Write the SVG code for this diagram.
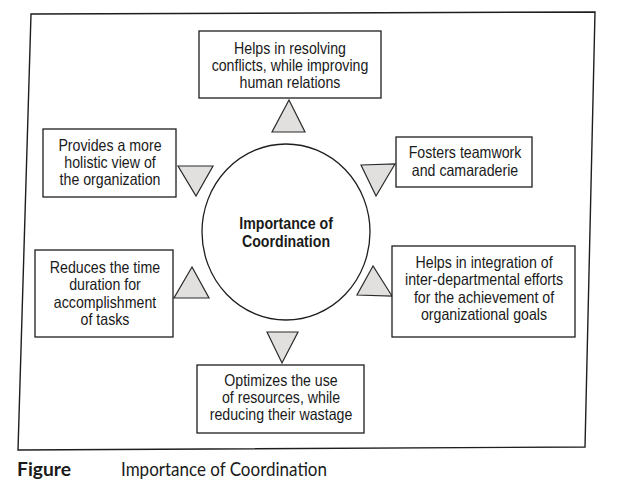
<svg xmlns="http://www.w3.org/2000/svg" width="617" height="485" viewBox="0 0 617 485">
<style>
.box{fill:#fff;stroke:#1e1e1e;stroke-width:1.3}
.tri{fill:#e2e0de;stroke:#2a2a2a;stroke-width:1.2;stroke-linejoin:miter}
.t{font-family:"Liberation Sans",Arial,sans-serif;font-size:16.3px;fill:#1a1a1a;text-anchor:middle;transform-box:fill-box;transform-origin:center;transform:scaleX(0.87)}
.b{font-weight:bold}
.cap{font-family:Lato,"Open Sans",sans-serif;font-size:19px;fill:#1a1a1a}
</style>
<rect width="617" height="485" fill="#fff"/>
<polygon points="31,14 595,12 585,447 18,450" fill="none" stroke="#1e1e1e" stroke-width="1.4"/>
<g id="connectors">
<polygon class="tri" points="289,100 272,132 305,132"/>
<polygon class="tri" points="178,166 213,166 196,196"/>
<polygon class="tri" points="361,165 395,164 376,196"/>
<polygon class="tri" points="192,267 174,298 209,298"/>
<polygon class="tri" points="373,266 357,295 392,296"/>
<polygon class="tri" points="267,332 298,332 282,363"/>
</g>
<g id="center">
<ellipse cx="286" cy="232" rx="84" ry="88" fill="#fff" stroke="#1e1e1e" stroke-width="1.3"/>
<text class="t b" x="286" y="229">Importance of</text>
<text class="t b" x="286" y="247">Coordination</text>
</g>
<g id="node-top">
<rect class="box" x="199" y="31" width="182" height="67"/>
<text class="t" x="290" y="54">Helps in resolving</text>
<text class="t" x="290" y="71">conflicts, while improving</text>
<text class="t" x="290" y="88">human relations</text>
</g>
<g id="node-left-top">
<rect class="box" x="43" y="129" width="133" height="68"/>
<text class="t" x="110" y="151">Provides a more</text>
<text class="t" x="110" y="168">holistic view of</text>
<text class="t" x="110" y="185">the organization</text>
</g>
<g id="node-right-top">
<rect class="box" x="396" y="137" width="136" height="50"/>
<text class="t" x="465" y="158">Fosters teamwork</text>
<text class="t" x="465" y="176">and camaraderie</text>
</g>
<g id="node-left-bottom">
<rect class="box" x="35" y="250" width="138" height="87"/>
<text class="t" x="105" y="273">Reduces the time</text>
<text class="t" x="105" y="290">duration for</text>
<text class="t" x="105" y="308">accomplishment</text>
<text class="t" x="105" y="325">of tasks</text>
</g>
<g id="node-right-bottom">
<rect class="box" x="392" y="246" width="183" height="91"/>
<text class="t" x="484" y="268">Helps in integration of</text>
<text class="t" x="484" y="285">inter-departmental efforts</text>
<text class="t" x="484" y="303">for the achievement of</text>
<text class="t" x="484" y="320">organizational goals</text>
</g>
<g id="node-bottom">
<rect class="box" x="197" y="365" width="167" height="68"/>
<text class="t" x="281" y="386">Optimizes the use</text>
<text class="t" x="281" y="403">of resources, while</text>
<text class="t" x="281" y="420">reducing their wastage</text>
</g>
<g id="caption">
<text class="cap" x="17" y="476" font-weight="bold" textLength="54" lengthAdjust="spacingAndGlyphs">Figure</text>
<text class="cap" x="121" y="476" textLength="206" lengthAdjust="spacingAndGlyphs">Importance of Coordination</text>
</g>
</svg>
